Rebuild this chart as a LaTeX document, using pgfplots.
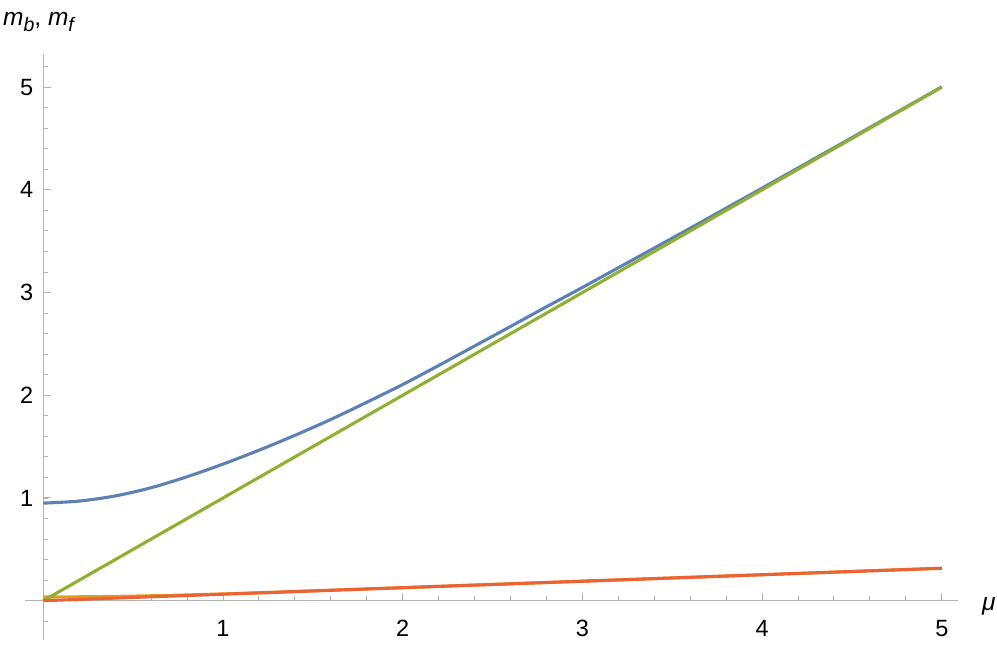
\documentclass[border=0pt]{standalone}
\usepackage{pgfplots}
\pgfplotsset{compat=1.18}
\usepackage{fontspec}
\setmainfont{Liberation Sans}
\definecolor{mblue}{HTML}{5E81B5}
\definecolor{morange}{HTML}{E19C24}
\definecolor{mgreen}{HTML}{8FB032}
\definecolor{mred}{HTML}{EB6235}
\definecolor{axgray}{HTML}{B3B3B3}
\begin{document}
\begin{tikzpicture}
\useasboundingbox (-43.3bp,-46.3bp) rectangle (953.7bp,600.7bp);
\begin{axis}[
  x=179.7bp, y=102.7bp,
  anchor=origin, at={(0,0)},
  axis lines=middle,
  every inner x axis line/.append style={-},
  every inner y axis line/.append style={-},
  axis line style={draw=axgray, line width=1.2bp, -},
  xmin=-0.1, xmax=5.09, ymin=-0.38, ymax=5.32,
  xtick={1,2,3,4,5}, ytick={1,2,3,4,5},
  minor xtick={0,0.2,...,5.01},
  minor ytick={-0.2,0,0.2,...,5.21},
  tick align=inside,
  major tick length=8bp, minor tick length=5bp,
  every tick/.style={draw=axgray, line width=1bp},
  tick label style={font=\fontsize{23.5bp}{27bp}\selectfont, text=black},
  /pgf/number format/assume math mode=true,
  xticklabel style={anchor=north, inner sep=0pt, yshift=-19bp},
  yticklabel style={anchor=east, inner sep=0pt, xshift=-10bp},
  clip=false,
]
\addplot[mblue, line width=3.1bp, smooth] coordinates {
(0,0.95) (0.2,0.97) (0.4,1.02) (0.6,1.10) (0.8,1.207) (1.0,1.33) (1.2,1.465)
(1.4,1.61) (1.6,1.765) (1.8,1.932) (2.0,2.105) (2.2,2.29) (2.4,2.48) (2.6,2.67)
(2.8,2.862) (3.0,3.05) (3.2,3.242) (3.4,3.434) (3.6,3.627) (3.8,3.822)
(4.0,4.017) (4.5,4.509) (5.0,5.004)};
\addplot[morange, line width=3.1bp, smooth] coordinates {
(0,0.036) (0.2,0.038) (0.4,0.042) (0.6,0.048) (0.8,0.056) (1.0,0.066)
(1.2,0.077) (1.5,0.096) (2,0.127) (3,0.19) (4,0.253) (5,0.316)};
\addplot[mgreen, line width=3.1bp] coordinates {(0,0.0) (5,5)};
\addplot[mred, line width=3.1bp] coordinates {(0,0) (5,0.316)};
\end{axis}
\node[anchor=base west, inner sep=0pt, font=\fontsize{24.5bp}{28bp}\selectfont] at (-40.3bp,574.7bp) {\textit{m}\raisebox{-6bp}{\fontsize{19.5bp}{21bp}\selectfont\textit{b}}, \textit{m}\raisebox{-6bp}{\fontsize{19.5bp}{21bp}\selectfont\textit{f}}};
\node[anchor=base west, inner sep=0pt, font=\fontsize{24.5bp}{28bp}\selectfont] at (938.7bp,-9.3bp) {\textit{μ}};
\end{tikzpicture}
\end{document}
